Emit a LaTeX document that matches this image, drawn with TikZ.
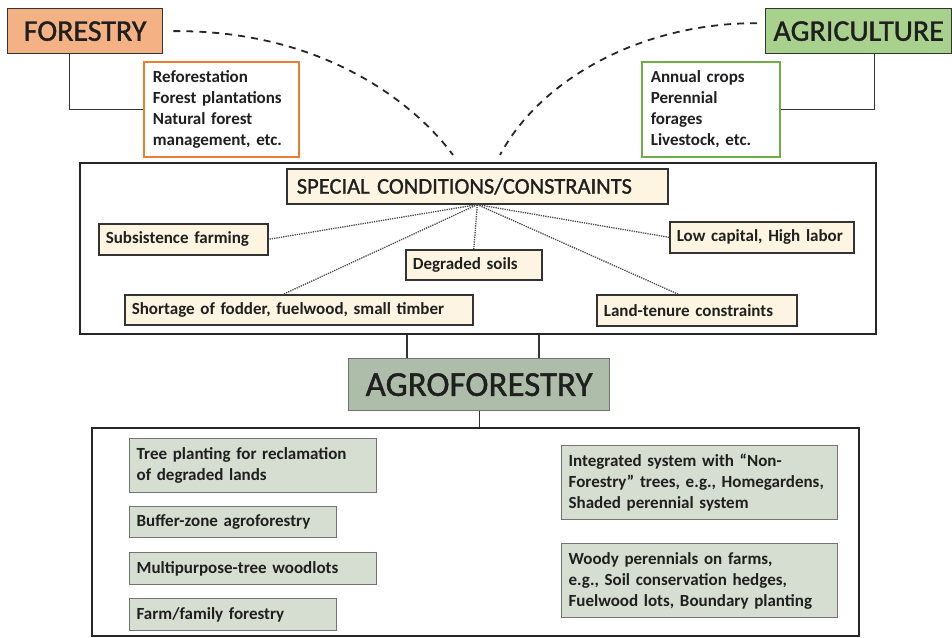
\documentclass[tikz,border=0pt]{standalone}
\usepackage{fontspec}
\setmainfont{Carlito}
\newfontfamily\headfont[FakeBold=1.2]{Carlito}
\usetikzlibrary{positioning}
\definecolor{forestfill}{HTML}{F4B183}
\definecolor{forestline}{HTML}{ED7D31}
\definecolor{agrifill}{HTML}{A9D18E}
\definecolor{agriline}{HTML}{70AD47}
\definecolor{condfill}{HTML}{FDF5E1}
\definecolor{agrohead}{HTML}{AEBDA9}
\definecolor{agrobox}{HTML}{D6DED2}
\begin{document}
\begin{tikzpicture}[x=1pt,y=-1pt,
	box/.style={draw=black!80,line width=1.3pt,anchor=north west,inner sep=0pt,inner xsep=7pt,
		text=black!88,align=left,font=\bfseries\fontsize{17}{21}\selectfont},
	head/.style={box,inner xsep=0pt,align=center,font=\headfont\fontsize{30}{32}\selectfont},
	cond/.style={box,fill=condfill,line width=1.6pt},
	listbox/.style={box,fill=white,line width=1.6pt},
	agrosub/.style={box,fill=agrobox,draw=black!55},
	frame/.style={draw=black!85,line width=1.8pt,anchor=north west,inner sep=0pt},
	wire/.style={draw=black!80,line width=1.3pt},
	spoke/.style={draw=black!70,densely dotted,line width=1.3pt},
	link/.style={draw=black!85,dash pattern=on 7pt off 6pt,line width=1.8pt}]
	\useasboundingbox (0,0) rectangle (952,637);

	% top: forestry and agriculture
	\node[head,fill=forestfill,minimum width=155,minimum height=45] (forestry) at (7,8) {FORESTRY};
	\node[listbox,draw=forestline,inner xsep=9pt,text width=137,minimum height=95] (forlist) at (143,61)
		{Reforestation\\Forest plantations\\Natural forest\\management, etc.};
	\node[head,fill=agrifill,minimum width=186,minimum height=45] (agri) at (765,8) {AGRICULTURE};
	\node[listbox,draw=agriline,inner xsep=9pt,text width=120,minimum height=95] (agrilist) at (641,61)
		{Annual crops\\Perennial\\forages\\Livestock, etc.};
	\draw[wire] ([xshift=-16pt]forestry.south) |- (forlist.west);
	\draw[wire] ([xshift=16pt]agri.south) |- (agrilist.east);

	% special conditions
	\node[frame,minimum width=796,minimum height=171] (midframe) at (79,162) {};
	\node[cond,inner xsep=10pt,text width=361,minimum height=35,font=\headfont\fontsize{22.5}{24}\selectfont] (special) at (286,168)
		{SPECIAL CONDITIONS/CONSTRAINTS};
	\node[cond,text width=155,minimum height=31] (subsist) at (98,223) {Subsistence farming};
	\node[cond,text width=122,minimum height=30] (degraded) at (405,249) {Degraded soils};
	\node[cond,text width=170,minimum height=31] (lowcap) at (669,221) {Low capital, High labor};
	\node[cond,text width=334,minimum height=30] (shortage) at (124,294) {Shortage of fodder, fuelwood, small timber};
	\node[cond,text width=186,minimum height=31] (tenure) at (596,294) {Land-tenure constraints};
	\draw[spoke] (special.south) -- (subsist.east);
	\draw[spoke] (special.south) -- (degraded.north);
	\draw[spoke] (special.south) -- (lowcap.west);
	\draw[spoke] (special.south) -- ([xshift=-15pt]shortage.north);
	\draw[spoke] (special.south) -- ([xshift=-19pt]tenure.north);

	\coordinate (fend) at (453,155);
	\coordinate (aend) at (500,155);
	\draw[link] ([xshift=10pt]forestry.east) .. controls (330,30) and (420,110) .. (fend);
	\draw[link] ([xshift=-8pt,yshift=8pt]agri.west) .. controls (640,23) and (540,80) .. (aend);

	% agroforestry
	\node[head,fill=agrohead,draw=black!55,minimum width=261,minimum height=52,font=\headfont\fontsize{35}{36}\selectfont] (agro) at (348,358) {AGROFORESTRY};
	\coordinate (lk1) at (407,0);
	\coordinate (lk2) at (539,0);
	\draw[wire] (midframe.south -| lk1) -- (agro.north -| lk1);
	\draw[wire] (midframe.south -| lk2) -- (agro.north -| lk2);
	\node[frame,minimum width=767,minimum height=208] (lowframe) at (91,427) {};
	\draw[wire] (agro.south) -- (lowframe.north -| agro.south);

	\node[agrosub,text width=233,minimum height=54] (reclaim) at (129,438) {Tree planting for reclamation\\of degraded lands};
	\node[agrosub,text width=193,minimum height=31] (buffer) at (129,506) {Buffer-zone agroforestry};
	\node[agrosub,text width=233,minimum height=32] (woodlot) at (129,552) {Multipurpose-tree woodlots};
	\node[agrosub,text width=193,minimum height=32] (family) at (129,598) {Farm/family forestry};
	\node[agrosub,text width=262,minimum height=74] (integrated) at (561,445)
		{Integrated system with “Non-\\Forestry” trees, e.g., Homegardens,\\Shaded perennial system};
	\node[agrosub,text width=262,minimum height=74] (woody) at (561,543)
		{Woody perennials on farms,\\e.g., Soil conservation hedges,\\Fuelwood lots, Boundary planting};
\end{tikzpicture}
\end{document}
